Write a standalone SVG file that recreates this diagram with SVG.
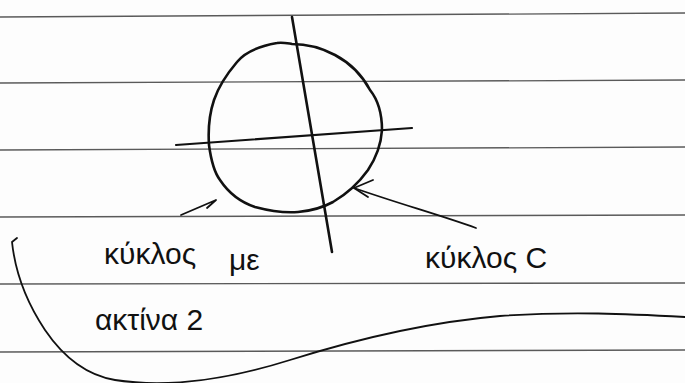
<svg xmlns="http://www.w3.org/2000/svg" width="685" height="383" viewBox="0 0 685 383">
<style>
.rule{stroke:#5a5a5a;stroke-width:1.3;fill:none}
.ink{stroke:#111;stroke-width:2.6;fill:none;stroke-linecap:round;stroke-linejoin:round}
.thin{stroke:#111;stroke-width:1.8;fill:none;stroke-linecap:round;stroke-linejoin:round}
.lbl{font-family:"Liberation Sans","DejaVu Sans",sans-serif;font-size:30px;fill:#111}
</style>
<rect width="685" height="383" fill="#fdfdfd"/>
<g id="paper">
<path class="rule" d="M0 17 L685 13"/>
<path class="rule" d="M0 83 L685 80"/>
<path class="rule" d="M0 150 L685 147"/>
<path class="rule" d="M0 217 L685 215"/>
<path class="rule" d="M0 284 L685 283"/>
<path class="rule" d="M0 352 L685 350"/>
</g>
<g id="circle">
<path class="ink" d="M277 43 C260 46 245 52 237 62 C226 75 218 88 214 100 C209 115 208 130 209 145 C211 160 214 172 220 180 C228 192 240 202 255 207 C270 211 285 213 298 212 C310 211 322 208 333 202 C345 195 358 184 368 170 C376 158 381 145 382 130 C382 115 378 100 370 90 C362 75 350 63 335 55 C320 47 305 44 292 44 C286 43 282 42 277 43 Z"/>
</g>
<g id="vertical-line">
<path class="ink" d="M292 17 L332 252"/>
</g>
<g id="horizontal-line">
<path class="ink" d="M176 145 C250 139 330 134 412 128" style="stroke-width:2.2"/>
</g>
<g id="connectors">
<path class="thin" d="M181 215 L216 200 L207 208"/>
<path class="thin" d="M476 228 C440 215 400 204 354 188"/>
<path class="thin" d="M373 180 L354 188 L368 197"/>
</g>
<g id="label-radius">
<text class="lbl" x="104" y="264">κύκλος</text>
<text class="lbl" x="229" y="270">με</text>
<text class="lbl" x="95" y="330">ακτίνα 2</text>
</g>
<g id="label-circle">
<text class="lbl" x="425" y="268">κύκλος C</text>
</g>
<g id="brace">
<path class="thin" d="M17 238 L12 242 C15 270 25 300 45 330 C62 355 85 375 115 380 C160 387 220 382 290 360 C360 338 430 322 500 316 C570 311 630 314 685 317"/>
</g>
</svg>
